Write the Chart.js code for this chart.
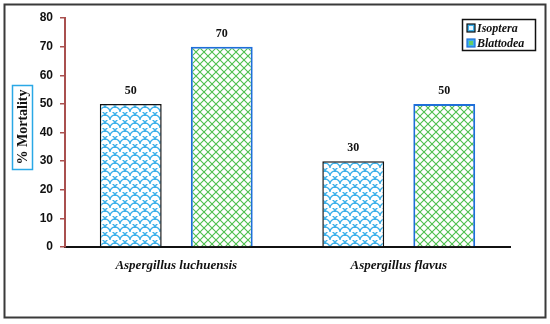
<!DOCTYPE html>
<html>
<head>
<meta charset="utf-8">
<script src="https://cdn.jsdelivr.net/npm/chart.js@4.4.1/dist/chart.umd.min.js"></script>
<style>
html,body{margin:0;padding:0;background:#fff;}
#wrap{position:relative;width:550px;height:324px;}
</style>
</head>
<body>
<div id="wrap"><canvas id="c" width="550" height="324"></canvas></div>
<script>
const categories = ["Aspergillus luchuensis", "Aspergillus flavus"];
const seriesNames = ["Isoptera", "Blattodea"];
const isopteraValues = [50, 30];
const blattodeaValues = [70, 50];
const yTicks = [0, 10, 20, 30, 40, 50, 60, 70, 80];
const yTitle = "% Mortality";

function scalePattern() {
  const c = document.createElement('canvas');
  c.width = 10; c.height = 8;
  const g = c.getContext('2d');
  g.fillStyle = '#fff'; g.fillRect(0, 0, 10, 8);
  g.strokeStyle = '#3cb0ea'; g.lineWidth = 1.3;
  g.beginPath(); g.arc(5, 8, 5, Math.PI, 2 * Math.PI); g.stroke();
  g.beginPath(); g.arc(0, 4, 5, Math.PI * 1.5, 2 * Math.PI); g.stroke();
  g.beginPath(); g.arc(10, 4, 5, Math.PI, Math.PI * 1.5); g.stroke();
  return g.createPattern(c, 'repeat');
}
function latticePattern() {
  const c = document.createElement('canvas');
  c.width = 8; c.height = 8;
  const g = c.getContext('2d');
  g.fillStyle = '#fff'; g.fillRect(0, 0, 8, 8);
  g.strokeStyle = '#4dbf4d'; g.lineWidth = 1.1;
  g.beginPath(); g.moveTo(0, 0); g.lineTo(8, 8); g.moveTo(8, 0); g.lineTo(0, 8); g.stroke();
  return g.createPattern(c, 'repeat');
}
const patA = scalePattern();
const patB = latticePattern();
const borderA = '#111111';
const borderB = '#1e6fd9';

const decor = {
  id: 'decor',
  afterDraw(chart) {
    const ctx = chart.ctx;
    ctx.save();
    // outer frame
    ctx.strokeStyle = '#3a3a3a'; ctx.lineWidth = 2;
    ctx.strokeRect(4.5, 4.5, 541, 313);
    // value labels
    ctx.fillStyle = '#111';
    ctx.font = 'bold 12px "Liberation Serif"';
    ctx.textAlign = 'center'; ctx.textBaseline = 'bottom';
    chart.data.datasets.forEach((ds, i) => {
      chart.getDatasetMeta(i).data.forEach((bar, j) => {
        ctx.fillText(String(ds.data[j]), bar.x, bar.y - 7);
      });
    });
    // y title with box
    ctx.save();
    ctx.translate(22, 127);
    ctx.rotate(-Math.PI / 2);
    ctx.font = 'bold 14px "Liberation Serif"';
    ctx.textAlign = 'center'; ctx.textBaseline = 'middle';
    ctx.fillStyle = '#111';
    ctx.fillText(yTitle, 0, 1);
    ctx.restore();
    ctx.strokeStyle = '#2aa8e6'; ctx.lineWidth = 1.5;
    ctx.strokeRect(12.5, 85.5, 20, 84);
    // legend
    ctx.strokeStyle = '#111'; ctx.lineWidth = 1.5;
    ctx.strokeRect(462.5, 19.5, 73, 31);
    ctx.font = 'italic bold 12px "Liberation Serif"';
    ctx.textAlign = 'left'; ctx.textBaseline = 'middle';
    chart.data.datasets.forEach((ds, i) => {
      const y = 28 + i * 15;
      ctx.fillStyle = '#3cb0ea';
      ctx.fillRect(467, y - 4, 8, 8);
      ctx.fillStyle = i === 0 ? '#e8f6ff' : '#66cc66';
      ctx.fillRect(469, y - 2, 4, 4);
      ctx.strokeStyle = i === 0 ? '#111' : '#1e6fd9'; ctx.lineWidth = 1.2;
      ctx.strokeRect(467, y - 4, 8, 8);
      ctx.fillStyle = '#111';
      ctx.fillText(ds.label, 477, y + 1);
    });
    ctx.restore();
  }
};

new Chart(document.getElementById('c'), {
  type: 'bar',
  data: {
    labels: categories,
    datasets: [
      { label: seriesNames[0], data: isopteraValues, backgroundColor: patA, borderColor: borderA, borderWidth: 1.5 },
      { label: seriesNames[1], data: blattodeaValues, backgroundColor: patB, borderColor: borderB, borderWidth: 2 }
    ]
  },
  options: {
    responsive: false,
    animation: false,
    devicePixelRatio: 1,
    layout: { padding: { left: 0, right: 40, top: 18, bottom: 0 } },
    plugins: { legend: { display: false }, tooltip: { enabled: false } },
    datasets: { bar: { categoryPercentage: 0.818, barPercentage: 0.68 } },
    scales: {
      x: {
        grid: { display: false },
        border: { display: true, color: '#111', width: 2 },
        ticks: {
          color: '#111', padding: 3,
          font: { family: 'Liberation Serif', size: 13, style: 'italic', weight: 'bold' }
        },
        afterFit(s) { s.height = 77; }
      },
      y: {
        min: 0, max: 80,
        afterBuildTicks(s) { s.ticks = yTicks.map(v => ({ value: v })); },
        grid: { drawOnChartArea: false, color: '#a9504f', tickLength: 5, lineWidth: 1.5 },
        border: { display: true, color: '#a9504f', width: 2 },
        ticks: {
          color: '#111', padding: 7,
          font: { family: 'Liberation Sans', size: 12, weight: 'bold' }
        },
        afterFit(s) { s.width = 65; }
      }
    }
  },
  plugins: [decor]
});
</script>
</body>
</html>
